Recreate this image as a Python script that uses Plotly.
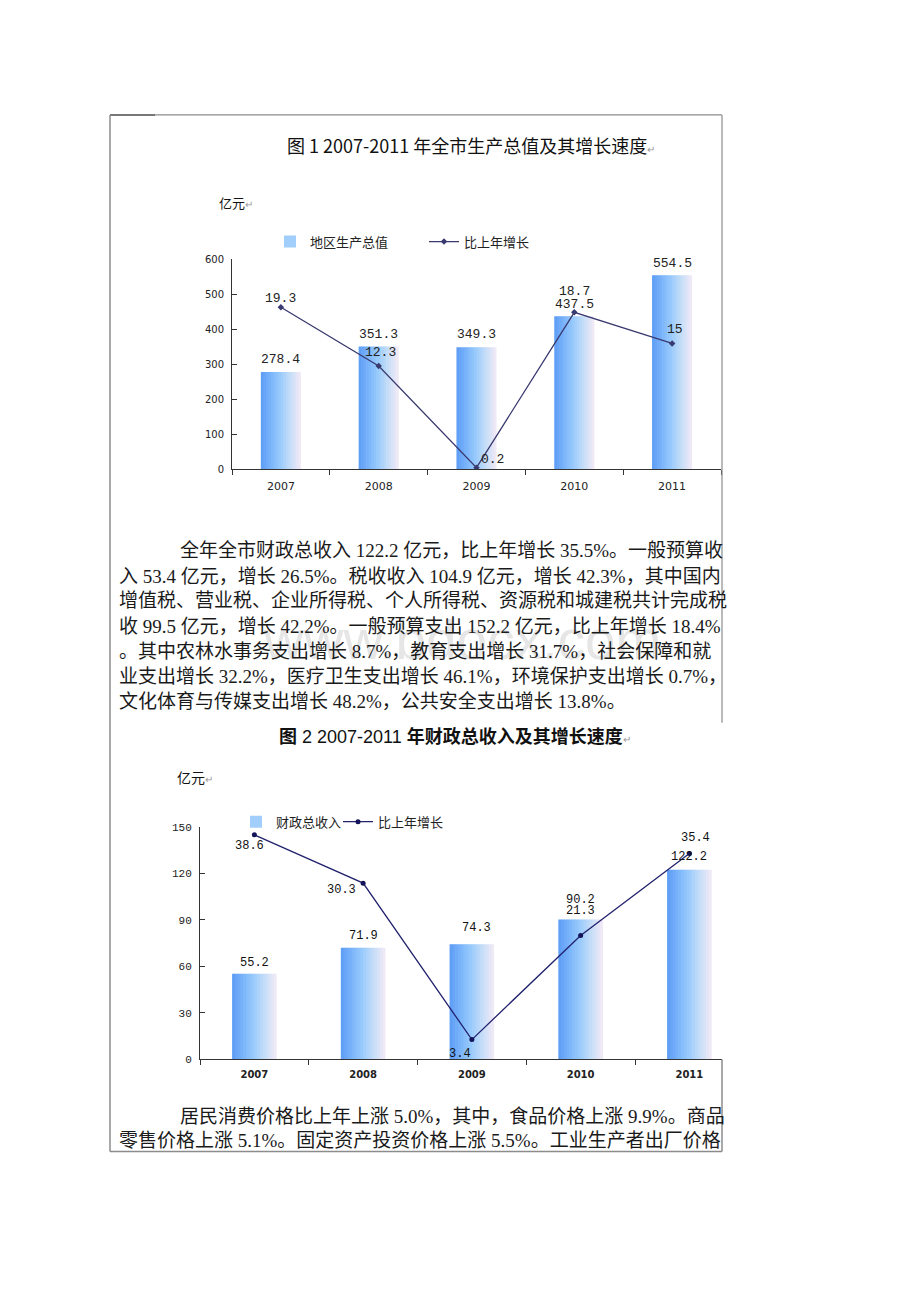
import plotly.graph_objects as go

W, H = 920, 1302

# ---------------- data ----------------
years = ["2007", "2008", "2009", "2010", "2011"]
gdp = [278.4, 351.3, 349.3, 437.5, 554.5]
gdp_growth = [19.3, 12.3, 0.2, 18.7, 15]
revenue = [55.2, 71.9, 74.3, 90.2, 122.2]
revenue_growth = [38.6, 30.3, 3.4, 21.3, 35.4]
gdp_ticks = [0, 100, 200, 300, 400, 500, 600]
rev_ticks = [0, 30, 60, 90, 120, 150]

title1 = "图 1 2007-2011 年全市生产总值及其增长速度"
title2_a = "图"
title2_b = " 2 2007-2011 "
title2_c = "年财政总收入及其增长速度"
unit_label = "亿元"
gdp_name = "地区生产总值"
rev_name = "财政总收入"
growth_name = "比上年增长"

para1_lines = [
    "全年全市财政总收入 122.2 亿元，比上年增长 35.5%。一般预算收",
    "入 53.4 亿元，增长 26.5%。税收收入 104.9 亿元，增长 42.3%，其中国内",
    "增值税、营业税、企业所得税、个人所得税、资源税和城建税共计完成税",
    "收 99.5 亿元，增长 42.2%。一般预算支出 152.2 亿元，比上年增长 18.4%",
    "。其中农林水事务支出增长 8.7%，教育支出增长 31.7%，社会保障和就",
    "业支出增长 32.2%，医疗卫生支出增长 46.1%，环境保护支出增长 0.7%，",
    "文化体育与传媒支出增长 48.2%，公共安全支出增长 13.8%。",
]
para2_lines = [
    "居民消费价格比上年上涨 5.0%，其中，食品价格上涨 9.9%。商品",
    "零售价格上涨 5.1%。固定资产投资价格上涨 5.5%。工业生产者出厂价格",
]
watermark = "www.bdocx.com"

# ---------------- style / placement ----------------
gdp_label_dy = [12, 12, 13, 12, 12]
gdp_growth_label_dx = [0, 2, 16, 0, 3]
gdp_growth_label_dy = [9, 14, 8, 21, 14]
rev_label_dx = [0, 0, 5, 0, 0]
rev_label_dy = [11, 12, 16, 19, 13]
rev_growth_label_dx = [-5, -22, -12, 0, 6]
rev_growth_label_dy = [-11, -7, -14, 24, 15]

CJK = "Noto Sans CJK SC"
BODY = "Liberation Serif, Noto Sans CJK SC"
MONO = "Liberation Mono, Noto Sans CJK SC"
SANS = "DejaVu Sans, Noto Sans CJK SC"


def px(x):
    return x / W


def py(y):
    return 1 - y / H


stops = [(0.0, (92, 156, 246)), (0.45, (148, 200, 252)),
         (0.75, (200, 222, 248)), (1.0, (245, 235, 246))]


def grad(t):
    for (t0, c0), (t1, c1) in zip(stops[:-1], stops[1:]):
        if t <= t1:
            f = (t - t0) / (t1 - t0)
            c = [round(a + (b - a) * f) for a, b in zip(c0, c1)]
            return "rgb(%d,%d,%d)" % tuple(c)
    return "rgb(%d,%d,%d)" % stops[-1][1]


NSTRIP = 16
BARW = 0.41
step = BARW / NSTRIP

fig = go.Figure()


def add_gradient_bars(values, xa, ya, name, legend):
    for i in range(NSTRIP):
        t = (i + 0.5) / NSTRIP
        w = step * 1.25 if i < NSTRIP - 1 else step
        fig.add_trace(go.Bar(
            x=years, y=values, xaxis=xa, yaxis=ya,
            offset=-BARW / 2 + i * step, width=w,
            marker=dict(color=grad(t), line=dict(width=0)),
            name=name, legend=legend, legendgroup=legend,
            showlegend=(i == NSTRIP // 2),
            hoverinfo="skip",
        ))


# chart 1
add_gradient_bars(gdp, "x", "y", gdp_name, "legend")
fig.add_trace(go.Scatter(
    x=years, y=gdp_growth, xaxis="x", yaxis="y3", mode="lines+markers",
    line=dict(color="#3a3a70", width=1.3),
    marker=dict(symbol="diamond", size=5, color="#3a3a70"),
    name=growth_name, legend="legend3",
))
# chart 2
add_gradient_bars(revenue, "x2", "y2", rev_name, "legend2")
fig.add_trace(go.Scatter(
    x=years, y=revenue_growth, xaxis="x2", yaxis="y4", mode="lines+markers",
    line=dict(color="#22226e", width=1.3),
    marker=dict(symbol="circle", size=5, color="#14145a"),
    name=growth_name, legend="legend4",
))

axis_line = dict(showline=True, linecolor="#333", linewidth=1, showgrid=False,
                 zeroline=False, ticklen=5, tickcolor="#333")

fig.update_layout(
    width=W, height=H, margin=dict(l=0, r=0, t=0, b=0),
    paper_bgcolor="white", plot_bgcolor="white", barmode="overlay",
    xaxis=dict(domain=[px(232), px(721)], anchor="y", type="category",
               range=[-0.5, 4.5], ticks="outside", tickson="boundaries",
               tickfont=dict(family=SANS, size=11, color="#222"),
               ticklabelstandoff=6, **axis_line),
    yaxis=dict(domain=[py(468), py(256)], anchor="x", range=[0, 600],
               tickvals=gdp_ticks, ticks="inside",
               tickfont=dict(family=SANS, size=10, color="#222"),
               ticklabelstandoff=5, **axis_line),
    yaxis3=dict(overlaying="y", anchor="x", range=[0, 25], visible=False),
    xaxis2=dict(domain=[px(200), px(722)], anchor="y2", type="category",
                range=[-0.5, 4.3], ticks="outside", tickson="boundaries",
                tickfont=dict(family="DejaVu Sans", size=10, color="#222",
                              weight="bold"),
                ticklabelstandoff=6, **axis_line),
    yaxis2=dict(domain=[py(1064), py(829)], anchor="x2", range=[0, 150],
                tickvals=rev_ticks, ticks="inside",
                tickfont=dict(family=MONO, size=11, color="#222"),
                ticklabelstandoff=5, **axis_line),
    yaxis4=dict(overlaying="y2", anchor="x2", range=[0, 40], visible=False),
    showlegend=True,
)

leg_common = dict(orientation="h", xanchor="left", yanchor="middle",
                  bgcolor="rgba(0,0,0,0)", borderwidth=0,
                  font=dict(family=CJK, size=13, color="#222"))
fig.update_layout(
    legend=dict(x=px(292 - 22), y=py(238), **leg_common),
    legend3=dict(x=px(446 - 22), y=py(238), **leg_common),
    legend2=dict(x=px(258 - 22), y=py(824), **leg_common),
    legend4=dict(x=px(360 - 22), y=py(824), **leg_common),
)

ann = []
# watermark (drawn first, underneath)
ann.append(dict(x=px(462), y=py(640), xref="paper", yref="paper",
                text=watermark, showarrow=False,
                font=dict(family="Liberation Sans", size=55, color="#e6e6e6")))

# data labels chart 1 (category index positions)
for i, v in enumerate(gdp):
    ann.append(dict(x=i, y=v, xref="x", yref="y", text=f"{v:g}",
                    showarrow=False, yshift=gdp_label_dy[i],
                    font=dict(family=MONO, size=13, color="#222")))
for i, v in enumerate(gdp_growth):
    ann.append(dict(x=i, y=v, xref="x", yref="y3", text=f"{v:g}",
                    showarrow=False, yshift=gdp_growth_label_dy[i],
                    xshift=gdp_growth_label_dx[i],
                    font=dict(family=MONO, size=13, color="#222")))
# data labels chart 2
for i, v in enumerate(revenue):
    ann.append(dict(x=i, y=v, xref="x2", yref="y2", text=f"{v:g}",
                    showarrow=False, yshift=rev_label_dy[i],
                    xshift=rev_label_dx[i],
                    font=dict(family=MONO, size=12, color="#111")))
for i, v in enumerate(revenue_growth):
    ann.append(dict(x=i, y=v, xref="x2", yref="y4", text=f"{v:g}",
                    showarrow=False, yshift=rev_growth_label_dy[i],
                    xshift=rev_growth_label_dx[i],
                    font=dict(family=MONO, size=12, color="#111")))

ret = '<span style="font-size:10px;color:#999">↵</span>'
# titles
ann.append(dict(x=px(285), y=py(140), xref="paper", yref="paper",
                xanchor="left", yanchor="middle", showarrow=False,
                text=title1 + ret,
                font=dict(family=CJK, size=18, color="#111")))
ann.append(dict(x=px(277), y=py(738), xref="paper", yref="paper",
                xanchor="left", yanchor="middle", showarrow=False,
                text="<b>" + title2_a + "</b>" + title2_b + "<b>" + title2_c + "</b>" + ret,
                font=dict(family="Liberation Sans, Noto Sans CJK SC", size=18,
                          color="#111")))
# unit labels
ann.append(dict(x=px(217), y=py(198), xref="paper", yref="paper",
                xanchor="left", yanchor="middle", showarrow=False,
                text=unit_label + ret,
                font=dict(family=CJK, size=13, color="#111")))
ann.append(dict(x=px(175), y=py(779), xref="paper", yref="paper",
                xanchor="left", yanchor="middle", showarrow=False,
                text=unit_label + ret,
                font=dict(family=CJK, size=14, color="#111")))

# body text
line_y1 = [550, 576, 601, 627, 652, 677, 703]
for i, t in enumerate(para1_lines):
    ann.append(dict(x=px(178 if i == 0 else 117), y=py(line_y1[i]),
                    xref="paper", yref="paper", xanchor="left",
                    yanchor="middle", showarrow=False, text=t,
                    font=dict(family=BODY, size=19, color="#1a1a1a")))
line_y2 = [1122, 1146]
for i, t in enumerate(para2_lines):
    ann.append(dict(x=px(178 if i == 0 else 117), y=py(line_y2[i]),
                    xref="paper", yref="paper", xanchor="left",
                    yanchor="middle", showarrow=False, text=t,
                    font=dict(family=BODY, size=19, color="#1a1a1a")))

fig.update_layout(annotations=ann)

# page frame
frame_col = "#8c8c8c"
shapes = [
    dict(type="line", xref="paper", yref="paper", x0=px(110), x1=px(722),
         y0=py(110), y1=py(110), line=dict(color=frame_col, width=1.2)),
    dict(type="line", xref="paper", yref="paper", x0=px(110), x1=px(155),
         y0=py(110), y1=py(110), line=dict(color="#777", width=2)),
    dict(type="line", xref="paper", yref="paper", x0=px(110), x1=px(110),
         y0=py(110), y1=py(1157), line=dict(color=frame_col, width=1.5)),
    dict(type="line", xref="paper", yref="paper", x0=px(722), x1=px(722),
         y0=py(110), y1=py(724), line=dict(color=frame_col, width=1.2)),
    dict(type="line", xref="paper", yref="paper", x0=px(722), x1=px(722),
         y0=py(1064), y1=py(1157), line=dict(color=frame_col, width=1.5)),
    dict(type="line", xref="paper", yref="paper", x0=px(110), x1=px(722),
         y0=py(1157), y1=py(1157), line=dict(color=frame_col, width=1.5)),
]
fig.update_layout(shapes=shapes)

fig.write_html("out.html")
